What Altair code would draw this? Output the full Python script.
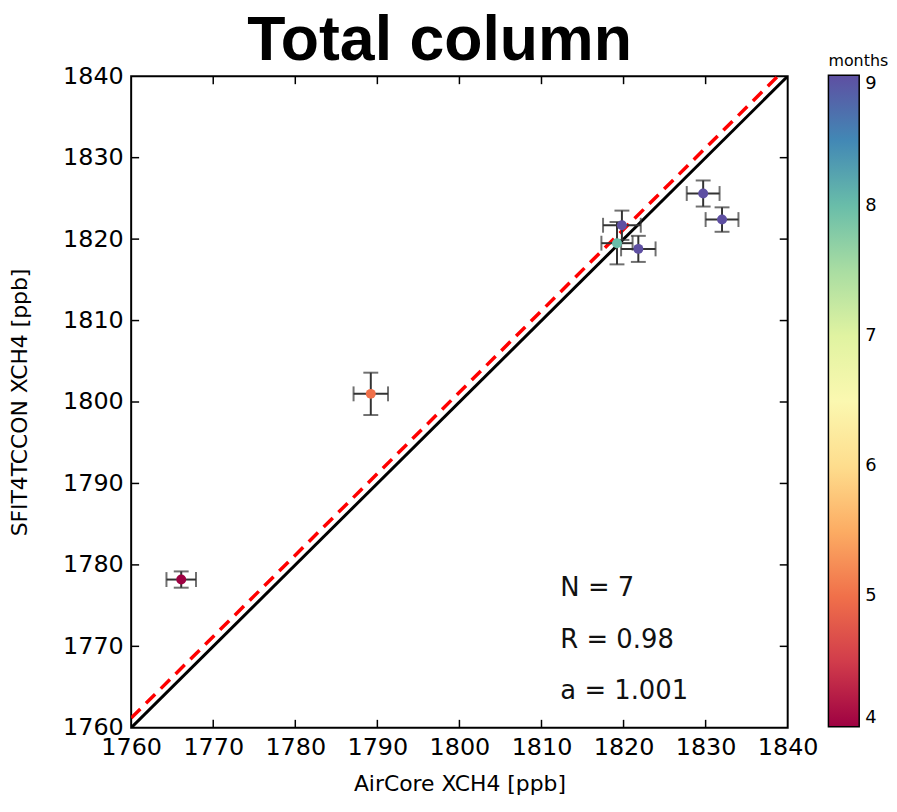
import altair as alt
import pandas as pd

# ---- data ----
aircore = [1766.1, 1789.2, 1819.8, 1819.2, 1821.8, 1829.7, 1832.0]
sfit = [1778.2, 1801.0, 1821.7, 1819.5, 1818.8, 1825.6, 1822.4]
x_err = [1.8, 2.1, 2.3, 1.9, 2.1, 2.0, 2.0]
y_err = [1.0, 2.6, 1.8, 2.6, 1.6, 1.6, 1.5]
months = [4, 5, 9, 8, 9, 9, 9]

one_x = [1760, 1840]
one_y = [1760, 1840]
fit_x = [1760, 1838.8]
fit_y = [1761.2, 1840]

annot_text = ["N = 7", "R = 0.98", "a = 1.001"]
annot_x = [1812.3, 1812.3, 1812.3]
annot_y = [1776.2, 1769.8, 1763.5]

label_vals = [1760, 1770, 1780, 1790, 1800, 1810, 1820, 1830, 1840]
inner_ticks = [1770, 1780, 1790, 1800, 1810, 1820, 1830]
cbar_vals = [4, 5, 6, 7, 8, 9]

W, H = 661, 656
TL = 8  # inward tick length

df = pd.DataFrame({
    "x": aircore, "y": sfit,
    "xlo": [a - e for a, e in zip(aircore, x_err)],
    "xhi": [a + e for a, e in zip(aircore, x_err)],
    "ylo": [b - e for b, e in zip(sfit, y_err)],
    "yhi": [b + e for b, e in zip(sfit, y_err)],
    "month": months,
})
one_df = pd.DataFrame({"x": one_x, "y": one_y})
fit_df = pd.DataFrame({"x": fit_x, "y": fit_y})
ann_df = pd.DataFrame({"x": annot_x, "y": annot_y, "t": annot_text})
tick_df = pd.DataFrame({"v": inner_ticks})

xs = alt.Scale(domain=[1760, 1840], nice=False, zero=False)
ys = alt.Scale(domain=[1760, 1840], nice=False, zero=False)
XT = "AirCore XCH4 [ppb]"
YT = "SFIT4TCCON XCH4 [ppb]"
xaxis = alt.Axis(values=label_vals, format="d", ticks=False, domain=False, grid=False,
                 labelFlush=False, labelOverlap=False, labelPadding=8, titlePadding=14)
yaxis = alt.Axis(values=label_vals, format="d", ticks=False, domain=False, grid=False,
                 labelOverlap=False, labelPadding=8, titlePadding=31)


def X(f):
    return alt.X(f, type="quantitative", scale=xs, axis=xaxis, title=XT)


def Y(f):
    return alt.Y(f, type="quantitative", scale=ys, axis=yaxis, title=YT)


ERR = "#333333"

one_line = alt.Chart(one_df).mark_line(color="black", strokeWidth=3, clip=True).encode(
    x=X("x"), y=Y("y"))
fit_line = alt.Chart(fit_df).mark_line(color="#ff0000", strokeWidth=3.5, strokeDash=[13, 8],
                                       clip=True).encode(x=X("x"), y=Y("y"))

xbar = alt.Chart(df).mark_rule(color=ERR, strokeWidth=2).encode(x=X("xlo"), x2="xhi", y=Y("y"))
ybar = alt.Chart(df).mark_rule(color=ERR, strokeWidth=2).encode(x=X("x"), y=Y("ylo"), y2="yhi")
cap_lo_x = alt.Chart(df).mark_tick(orient="vertical", size=15, thickness=2, color=ERR).encode(
    x=X("xlo"), y=Y("y"))
cap_hi_x = alt.Chart(df).mark_tick(orient="vertical", size=15, thickness=2, color=ERR).encode(
    x=X("xhi"), y=Y("y"))
cap_lo_y = alt.Chart(df).mark_tick(orient="horizontal", size=15, thickness=2, color=ERR).encode(
    x=X("x"), y=Y("ylo"))
cap_hi_y = alt.Chart(df).mark_tick(orient="horizontal", size=15, thickness=2, color=ERR).encode(
    x=X("x"), y=Y("yhi"))

points = alt.Chart(df).mark_circle(size=100, opacity=1).encode(
    x=X("x"), y=Y("y"),
    color=alt.Color("month:Q", scale=alt.Scale(scheme="spectral", domain=[4, 9]),
                    legend=alt.Legend(title="months", orient="none", legendX=702, legendY=-23,
                                      direction="vertical", gradientLength=H,
                                      gradientThickness=31, gradientStrokeColor="black",
                                      gradientStrokeWidth=1.5, values=cbar_vals, format="d",
                                      labelFontSize=18, labelFont="DejaVu Sans",
                                      labelColor="black", labelOffset=6,
                                      titleFontSize=16, titleFont="DejaVu Sans",
                                      titleFontWeight="normal", titleColor="black",
                                      titlePadding=6)))

ann = alt.Chart(ann_df).mark_text(align="left", baseline="alphabetic", fontSize=26,
                                  font="DejaVu Sans", color="#111111").encode(
    x=X("x"), y=Y("y"), text="t:N")

tk_bottom = alt.Chart(tick_df).mark_rule(color="black", strokeWidth=1.5).encode(
    x=X("v"), y=alt.value(H), y2=alt.value(H - TL))
tk_top = alt.Chart(tick_df).mark_rule(color="black", strokeWidth=1.5).encode(
    x=X("v"), y=alt.value(0), y2=alt.value(TL))
tk_left = alt.Chart(tick_df).mark_rule(color="black", strokeWidth=1.5).encode(
    y=Y("v"), x=alt.value(0), x2=alt.value(TL))
tk_right = alt.Chart(tick_df).mark_rule(color="black", strokeWidth=1.5).encode(
    y=Y("v"), x=alt.value(W), x2=alt.value(W - TL))

chart = alt.layer(
    tk_bottom, tk_top, tk_left, tk_right,
    one_line, fit_line,
    xbar, ybar, cap_lo_x, cap_hi_x, cap_lo_y, cap_hi_y,
    points, ann,
).properties(
    width=W, height=H,
    title=alt.TitleParams("Total column", fontSize=63, font="Liberation Sans",
                          fontWeight="bold", anchor="middle", offset=-20, dx=-20,
                          color="black"),
    padding={"left": 0, "top": 0, "right": 0, "bottom": 0},
).configure_view(
    stroke="black", strokeWidth=2
).configure_axis(
    labelFont="DejaVu Sans", labelFontSize=24, labelColor="black",
    titleFont="DejaVu Sans", titleFontSize=22, titleFontWeight="normal", titleColor="black",
)

chart.save("out.html", embed_options={"renderer": "svg", "actions": False})
